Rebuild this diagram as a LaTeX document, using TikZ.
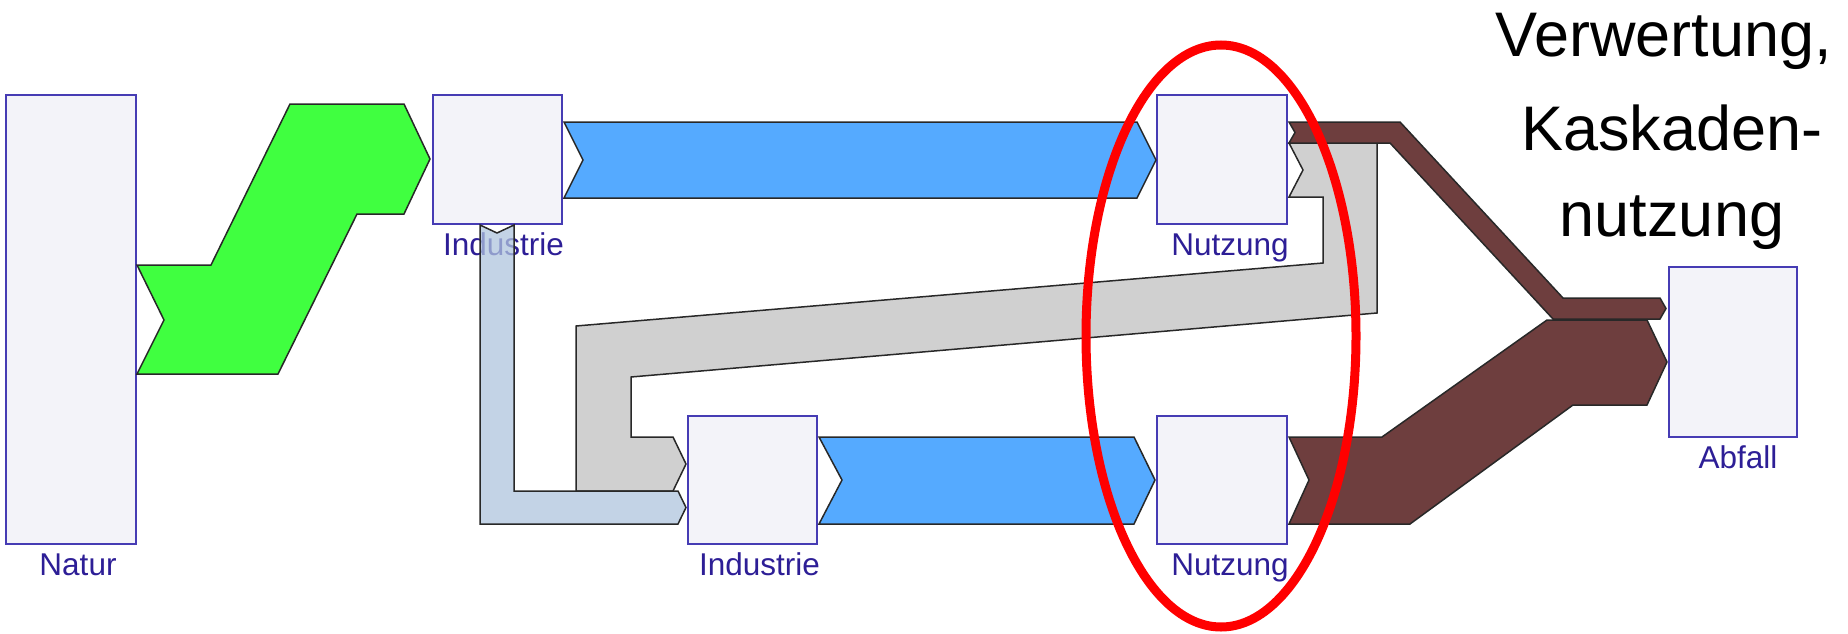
\documentclass[tikz,border=0pt]{standalone}
\usepackage{fontspec}
\setmainfont{Liberation Sans}
\setsansfont{Liberation Sans}
\usetikzlibrary{calc}

\definecolor{boxline}{RGB}{70,60,180}
\definecolor{boxfill}{RGB}{243,243,249}
\definecolor{labelcol}{RGB}{45,30,150}
\definecolor{flowline}{RGB}{40,40,40}
\definecolor{flowgreen}{RGB}{64,255,64}
\definecolor{flowblue}{RGB}{85,170,255}
\definecolor{flowlight}{RGB}{175,196,222}
\definecolor{flowgray}{RGB}{208,208,208}
\definecolor{flowbrown}{RGB}{110,62,62}

\tikzset{
  stockbox/.style={draw=boxline, fill=boxfill, line width=2pt, inner sep=0pt, outer sep=0pt},
  boxlabel/.style={anchor=base, text=labelcol, inner sep=0pt, font=\fontsize{31.5}{36}\selectfont},
  band/.style={draw=flowline, line width=1.5pt, line join=miter},
  headline/.style={anchor=base, inner sep=0pt, text=black, font=\fontsize{63}{75}\selectfont},
}

\begin{document}
\begin{tikzpicture}[x=1pt, y=-1pt]
\useasboundingbox (0,0) rectangle (1848,634);

% stocks
\node[stockbox, minimum width=130pt, minimum height=449pt] (nat) at (71,319.5) {};
\node[stockbox, minimum width=129pt, minimum height=129pt] (ind1) at (497.5,159.5) {};
\node[stockbox, minimum width=130pt, minimum height=129pt] (use1) at (1222,159.5) {};
\node[stockbox, minimum width=129pt, minimum height=128pt] (ind2) at (752.5,480) {};
\node[stockbox, minimum width=130pt, minimum height=128pt] (use2) at (1222,480) {};
\node[stockbox, minimum width=128pt, minimum height=170pt] (waste) at (1733,352) {};

% box captions
\node[boxlabel] (natlab) at ($(nat.south)+(7,31)$) {Natur};
\node[boxlabel] (ind1lab) at ($(ind1.south)+(6,31)$) {Industrie};
\node[boxlabel] (use1lab) at ($(use1.south)+(8,31)$) {Nutzung};
\node[boxlabel] (ind2lab) at ($(ind2.south)+(7,31)$) {Industrie};
\node[boxlabel] (use2lab) at ($(use2.south)+(8,31)$) {Nutzung};
\node[boxlabel] (wastelab) at ($(waste.south)+(5,31)$) {Abfall};

% raw material: Natur -> Industrie
\draw[band, fill=flowgreen]
  (137,265) -- (211,265) -- (290,104) -- (404,104) -- (430,159)
  -- (404,214) -- (357,214) -- (278,374) -- (137,374) -- (164,320) -- cycle;

% products: Industrie -> Nutzung (upper chain)
\draw[band, fill=flowblue]
  (564,122) -- (1137,122) -- (1156,160) -- (1137,198) -- (564,198) -- (583,160) -- cycle;

% recovered material: Nutzung -> Industrie (lower chain)
\draw[band, fill=flowgray]
  (1289,143) -- (1377,143) -- (1377,313) -- (631,377) -- (631,437) -- (673,437)
  -- (686,464) -- (673,491) -- (576,491) -- (576,326) -- (1323,263) -- (1323,197)
  -- (1289,197) -- (1303,170) -- cycle;

% by-products: Industrie -> Industrie
\draw[band, fill=flowlight, fill opacity=0.75]
  (480,225) -- (497,233) -- (514,225) -- (514,491) -- (678,491) -- (686,507.5)
  -- (678,524) -- (480,524) -- cycle;

% products: Industrie -> Nutzung (lower chain)
\draw[band, fill=flowblue]
  (819,437) -- (1134,437) -- (1155,480) -- (1134,524) -- (819,524) -- (842,480) -- cycle;

% waste streams -> Abfall
\draw[band, fill=flowbrown]
  (1289,437) -- (1382,437) -- (1547,320) -- (1647,320) -- (1667,362)
  -- (1647,405) -- (1573,405) -- (1410,524) -- (1289,524) -- (1309,480) -- cycle;
\draw[band, fill=flowbrown]
  (1289,122) -- (1400,122) -- (1563,298) -- (1660,298) -- (1666,308.5)
  -- (1660,319) -- (1553,319) -- (1390,143) -- (1289,143) -- (1295,132.5) -- cycle;

% highlight of the use stage
\draw[red, line width=9pt] (1221,336) ellipse [x radius=135, y radius=291];

% heading
\node[headline] (h1) at (1664,57) {Verwertung,};
\node[headline] (h2) at (1672,150) {Kaskaden-};
\node[headline] (h3) at (1672,236) {nutzung};
\end{tikzpicture}
\end{document}
